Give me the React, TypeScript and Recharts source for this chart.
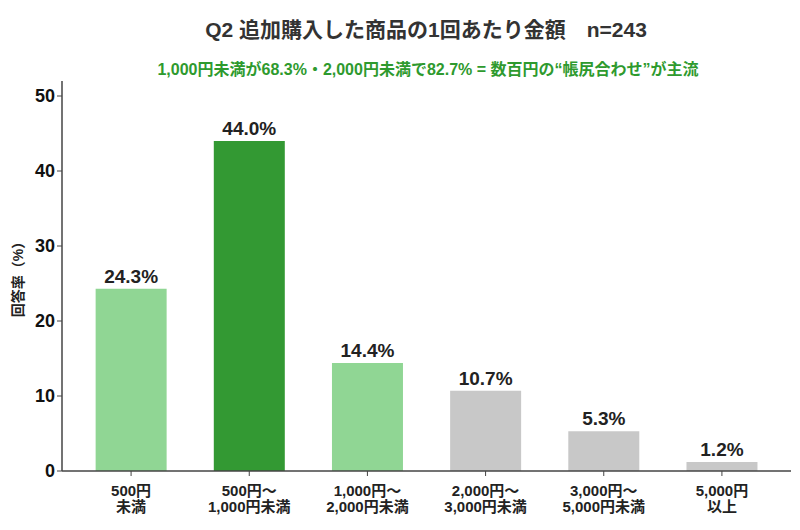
import { BarChart, Bar, XAxis, YAxis, Cell, LabelList } from 'recharts'

const categories = ['500円\n未満', '500円〜\n1,000円未満', '1,000円〜\n2,000円未満', '2,000円〜\n3,000円未満', '3,000円〜\n5,000円未満', '5,000円\n以上']
const shares = [24.3, 44.0, 14.4, 10.7, 5.3, 1.2]
const barColors = ['#90d694', '#339933', '#90d694', '#c8c8c8', '#c8c8c8', '#c8c8c8']
const yTicks = [0, 10, 20, 30, 40, 50]

const data = categories.map((name, i) => ({ name, value: shares[i] }))

const FONT = "'Liberation Sans', 'Noto Sans CJK JP', sans-serif"

function CategoryTick({ x, y, payload }: any) {
  const lines = String(payload.value).split('\n')
  return (
    <text x={x} y={y + 18} textAnchor="middle" fontFamily={FONT} fontSize={15} fontWeight={700} fill="#222">
      {lines.map((line, i) => (
        <tspan key={i} x={x} dy={i === 0 ? 0 : 16}>{line}</tspan>
      ))}
    </text>
  )
}

export default function App() {
  return (
    <div style={{ position: 'absolute', left: 0, top: 0, width: 800, height: 530, background: '#fff', fontFamily: FONT }}>
      <div style={{ position: 'absolute', left: 0, width: 852, top: 13, textAlign: 'center', fontSize: 21, fontWeight: 700, color: '#333' }}>
        Q2 追加購入した商品の1回あたり金額　n=243
      </div>
      <div style={{ position: 'absolute', left: 0, width: 856, top: 56, textAlign: 'center', fontSize: 16, fontWeight: 700, color: '#2e9a2e' }}>
        1,000円未満が68.3%・2,000円未満で82.7% = 数百円の“帳尻合わせ”が主流
      </div>
      <BarChart width={800} height={530} data={data} margin={{ top: 81, right: 9, bottom: 0, left: 8 }} barCategoryGap="20%">
        <XAxis
          dataKey="name"
          height={59}
          interval={0}
          padding={{ left: 10, right: 10 }}
          tick={<CategoryTick />}
          tickSize={5}
          axisLine={{ stroke: '#444', strokeWidth: 1.5 }}
          tickLine={{ stroke: '#444' }}
        />
        <YAxis
          width={54}
          domain={[0, 52]}
          ticks={yTicks}
          tickSize={5}
          axisLine={{ stroke: '#444', strokeWidth: 1.5 }}
          tickLine={{ stroke: '#444' }}
          tick={{ fontFamily: FONT, fontSize: 18, fontWeight: 700, fill: '#111' }}
          label={{ value: '回答率（%）', angle: -90, position: 'insideLeft', offset: 10, style: { fontFamily: FONT, fontSize: 14, fontWeight: 700, fill: '#222', textAnchor: 'middle' } }}
        />
        <Bar dataKey="value" isAnimationActive={false}>
          {data.map((_, i) => (
            <Cell key={i} fill={barColors[i]} />
          ))}
          <LabelList dataKey="value" position="top" offset={6} formatter={(v: any) => `${Number(v).toFixed(1)}%`} style={{ fontFamily: FONT, fontSize: 19, fontWeight: 700, fill: '#222' }} />
        </Bar>
      </BarChart>
    </div>
  )
}
